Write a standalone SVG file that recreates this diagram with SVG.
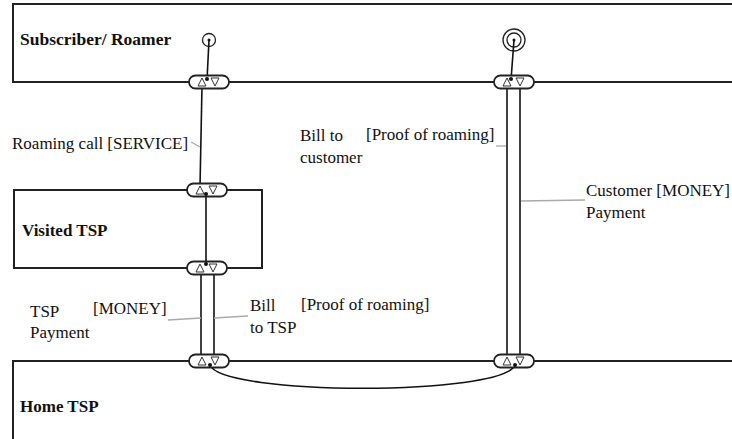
<svg xmlns="http://www.w3.org/2000/svg" width="732" height="439" viewBox="0 0 732 439">
<style>
.box{fill:#fff;stroke:#222;stroke-width:2}
.pill{fill:#fff;stroke:#222;stroke-width:1.8}
.tri{fill:#fff;stroke:#333;stroke-width:1}
.ln{fill:none;stroke:#111;stroke-width:1.6}
.lead{fill:none;stroke:#aaa;stroke-width:1.3}
.dot{fill:#111}
.t{font-family:"Liberation Serif","Times New Roman",serif;font-size:17px;fill:#111}
.b{font-family:"Liberation Serif","Times New Roman",serif;font-size:17px;font-weight:bold;fill:#111}
</style>
<defs>
<g id="port">
<rect class="pill" x="-20" y="-6.5" width="40" height="13" rx="6.5"/>
<polygon class="tri" points="-7,-4 -11,4 -3,4"/>
<polygon class="tri" points="2,-4 10,-4 6,4"/>
</g>
</defs>
<g id="subscriber">
<rect class="box" x="13" y="4" width="730" height="78"/>
<text class="b" x="20" y="45" style="font-size:17.5px">Subscriber/ Roamer</text>
<circle cx="209" cy="40" r="6.5" fill="#fff" stroke="#222" stroke-width="1.3"/>
<circle cx="514" cy="40" r="11" fill="#fff" stroke="#222" stroke-width="1.3"/>
<circle cx="514" cy="40" r="7" fill="#fff" stroke="#222" stroke-width="1.3"/>
</g>
<g id="visited">
<rect class="box" x="14" y="190" width="248" height="78"/>
<text class="b" x="22" y="236">Visited TSP</text>
</g>
<g id="home">
<rect class="box" x="13" y="361" width="730" height="90"/>
<text class="b" x="20" y="412">Home TSP</text>
</g>
<g id="connectors">
<line class="ln" x1="209" y1="40" x2="207" y2="80"/>
<line class="ln" x1="514" y1="40" x2="511" y2="80"/>
<line class="ln" x1="202" y1="86" x2="200" y2="187"/>
<line class="ln" x1="206" y1="194" x2="206" y2="264"/>
<line class="ln" x1="201" y1="271" x2="201" y2="358"/>
<line class="ln" x1="214" y1="271" x2="214" y2="358"/>
<line class="ln" x1="507" y1="85" x2="507" y2="358"/>
<line class="ln" x1="520" y1="85" x2="520" y2="358"/>
<path class="ln" d="M210,365 C222,396 503,396 515,365"/>
<line class="lead" x1="191" y1="142" x2="200" y2="147"/>
<line class="lead" x1="496" y1="146" x2="506" y2="146"/>
<line class="lead" x1="521" y1="201" x2="585" y2="200"/>
<line class="lead" x1="168" y1="320" x2="201" y2="318"/>
<line class="lead" x1="214" y1="318" x2="248" y2="316"/>
</g>
<g id="ports">
<use href="#port" x="209" y="82"/>
<use href="#port" x="514" y="82"/>
<use href="#port" x="207" y="190"/>
<use href="#port" x="207" y="268"/>
<use href="#port" x="209" y="361"/>
<use href="#port" x="514" y="361"/>
<circle class="dot" cx="207" cy="79" r="2"/>
<circle class="dot" cx="511" cy="79" r="2"/>
<circle class="dot" cx="206" cy="194" r="2"/>
<circle class="dot" cx="206" cy="264" r="2"/>
<circle class="dot" cx="210" cy="365" r="2"/>
<circle class="dot" cx="515" cy="365" r="2"/>
<circle cx="209" cy="40" r="1.5" class="dot"/>
<circle cx="514" cy="40" r="1.5" class="dot"/>
</g>
<g id="labels">
<text class="t" x="12" y="149">Roaming call [SERVICE]</text>
<text class="t" x="300" y="141">Bill to</text>
<text class="t" x="366" y="140">[Proof of roaming]</text>
<text class="t" x="300" y="163">customer</text>
<text class="t" x="586" y="196">Customer [MONEY]</text>
<text class="t" x="586" y="218">Payment</text>
<text class="t" x="30" y="317">TSP</text>
<text class="t" x="93" y="314">[MONEY]</text>
<text class="t" x="30" y="338">Payment</text>
<text class="t" x="250" y="311">Bill</text>
<text class="t" x="301" y="310">[Proof of roaming]</text>
<text class="t" x="250" y="333">to TSP</text>
</g>
</svg>
